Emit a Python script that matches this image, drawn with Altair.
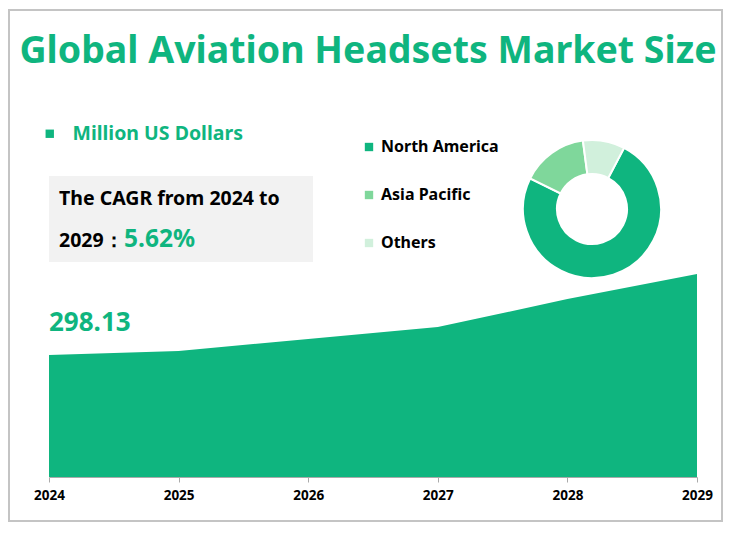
import math
import altair as alt
import pandas as pd

# ---------------- data ----------------
years = [2024, 2025, 2026, 2027, 2028, 2029]
market_size = [298.13, 302.8, 316.6, 330.5, 362.9, 391.9]
series_name = "Million US Dollars"
regions = ["North America", "Asia Pacific", "Others"]
region_share = [74.6, 15.6, 9.8]
region_colors = ["#0fb57f", "#7fd79b", "#d1f0dc"]
title_text = "Global Aviation Headsets Market Size"
cagr_line1 = "The CAGR from 2024 to"
cagr_line2 = "2029："
cagr_value = "5.62%"

GREEN = "#0fb57f"
FONT = "Noto Sans"

# plot-area origin on the page
OX, OY = 49, 60
W, H = 648, 417
Y_MIN, Y_MAX = 157, 639.5


def px(x):
    return x - OX


def py(y):
    return y - OY


df = pd.DataFrame({"year": years, "value": market_size, "series": series_name})
rdf = pd.DataFrame({"region": regions, "share": region_share, "order": list(range(len(regions)))})
one = pd.DataFrame({"k": [0]})

start = math.radians(27.7)

border = alt.Chart(one).mark_rect(fill=None, stroke="#c4c4c4", strokeWidth=2).encode(
    x=alt.value(px(9)), x2=alt.value(px(722)), y=alt.value(py(10)), y2=alt.value(py(521))
)

area = alt.Chart(df).mark_area(opacity=1).encode(
    x=alt.X(
        "year:Q",
        scale=alt.Scale(domain=[2024, 2029], nice=False, zero=False),
        axis=alt.Axis(
            values=years, format="d", title=None, grid=False,
            labelFont=FONT, labelFontWeight="bold", labelFontSize=13.5, labelColor="black",
            domainColor="#aaaaaa", tickColor="#aaaaaa", tickSize=5, labelPadding=6,
            labelFlush=False,
        ),
    ),
    y=alt.Y("value:Q", scale=alt.Scale(domain=[Y_MIN, Y_MAX], zero=False, nice=False), axis=None),
    y2=alt.datum(Y_MIN),
    color=alt.Color(
        "series:N",
        scale=alt.Scale(domain=[series_name], range=[GREEN]),
        legend=alt.Legend(
            title=None, orient="none", legendX=px(40), legendY=py(124), padding=0,
            symbolType="square", symbolSize=70, symbolStrokeWidth=0,
            labelFont=FONT, labelFontSize=19.5, labelFontWeight="bold", labelColor=GREEN,
            labelOffset=13, labelLimit=400,
        ),
    ),
)

value_label = alt.Chart(df).transform_filter(alt.datum.year == years[0]).mark_text(
    align="left", baseline="alphabetic", dy=-24, fontSize=26, fontWeight="bold", font=FONT, color=GREEN
).encode(
    x="year:Q", y="value:Q", text=alt.Text("value:Q", format=".2f")
)

arc = alt.Chart(rdf).mark_arc(innerRadius=35, outerRadius=69, stroke="white", strokeWidth=2).encode(
    theta=alt.Theta("share:Q", stack=True, scale=alt.Scale(range=[start, start + 2 * math.pi])),
    order=alt.Order("order:Q"),
    color=alt.Color(
        "region:N", sort=regions,
        scale=alt.Scale(domain=regions, range=region_colors),
        legend=alt.Legend(
            title=None, orient="none", legendX=px(361), legendY=py(139), padding=0,
            symbolType="square", symbolSize=70, symbolStrokeWidth=0,
            labelFont=FONT, labelFontSize=16, labelFontWeight="bold", labelColor="black",
            labelOffset=4, rowPadding=32, labelLimit=400,
        ),
    ),
    x=alt.value(px(592)),
    y=alt.value(py(209)),
)

cagr_bg = alt.Chart(one).mark_rect(color="#f2f2f2").encode(
    x=alt.value(px(49)), x2=alt.value(px(313)), y=alt.value(py(176)), y2=alt.value(py(262))
)

cagr_t1 = alt.Chart(pd.DataFrame({"t": [cagr_line1]})).mark_text(
    align="left", baseline="middle", fontSize=19.5, fontWeight="bold", font=FONT, color="black"
).encode(x=alt.value(px(59)), y=alt.value(py(199)), text="t:N")

cagr_t2 = alt.Chart(pd.DataFrame({"t": [cagr_line2]})).mark_text(
    align="left", baseline="middle", fontSize=19.5, fontWeight="bold", font=FONT, color="black"
).encode(x=alt.value(px(59)), y=alt.value(py(241)), text="t:N")

cagr_v = alt.Chart(pd.DataFrame({"t": [cagr_value]})).mark_text(
    align="left", baseline="middle", fontSize=24.5, fontWeight="bold", font=FONT, color=GREEN
).encode(x=alt.value(px(124)), y=alt.value(py(240)), text="t:N")

title = alt.Chart(pd.DataFrame({"t": [title_text]})).mark_text(
    align="center", baseline="middle", fontSize=37.5, fontWeight="bold", font=FONT, color=GREEN
).encode(x=alt.value(px(368)), y=alt.value(py(52)), text="t:N")

chart = (
    alt.layer(border, cagr_bg, area, value_label, arc, cagr_t1, cagr_t2, cagr_v, title)
    .resolve_scale(color="independent")
    .properties(
        width=W, height=H,
        background="white",
        autosize=alt.AutoSizeParams(type="none"),
        padding={"left": OX - 8, "top": OY - 8, "right": 29, "bottom": 50},
    )
    .configure_view(stroke=None, strokeWidth=0)
)

chart.save("out.html", embed_options={"renderer": "svg", "actions": False})
